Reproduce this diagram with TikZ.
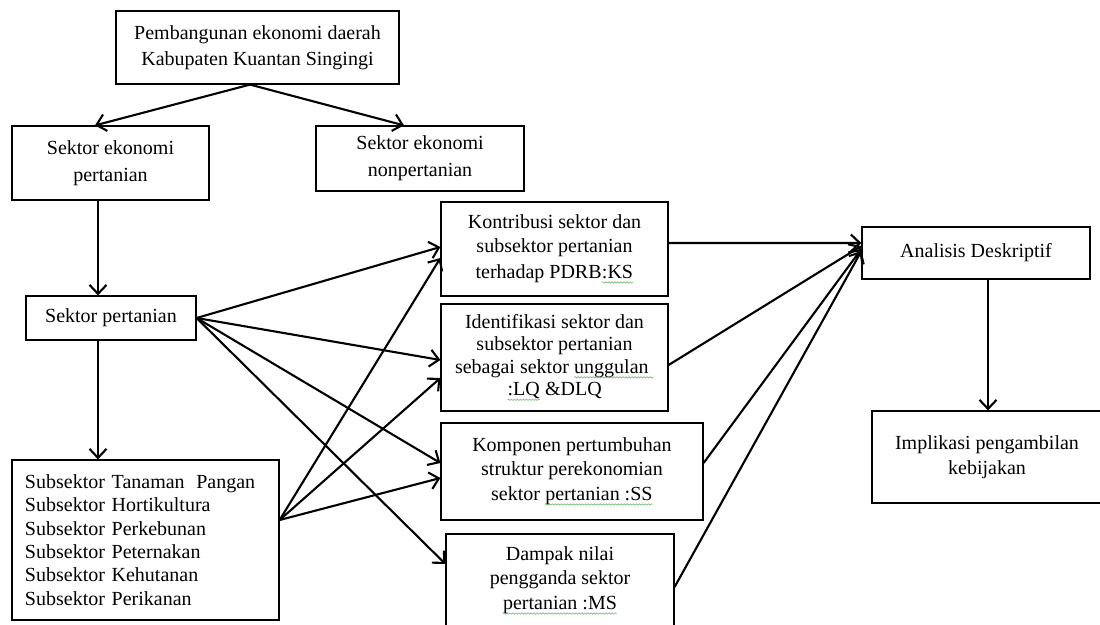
\documentclass[tikz,border=0pt]{standalone}
\usepackage{fontspec}
\setmainfont{Liberation Serif}
\usetikzlibrary{arrows.meta,decorations.pathmorphing}
\definecolor{squig}{RGB}{110,185,110}
\newcommand\fsz{\fontsize{20bp}{24.5bp}\selectfont}
\newcommand\sq[1]{\begin{pgfinterruptpicture}\tikz[baseline=(w.base)]{\node[draw=none,fill=none,inner sep=0pt,outer sep=0pt,minimum width=0pt,minimum height=0pt] (w) {#1};
 \draw[draw=squig,line width=0.6bp,decorate,decoration={snake,amplitude=0.7bp,segment length=3bp}] ([yshift=-4bp]w.base west) -- ([yshift=-4bp]w.base east);}\end{pgfinterruptpicture}}
\begin{document}
\begin{tikzpicture}[x=1bp,y=-1bp,
  box/.style={draw, line width=1.2bp, inner sep=0pt, align=center, font=\fsz},
  arr/.style={line width=2.1bp, -{Straight Barb[length=9bp,width=17bp]}}]
\useasboundingbox (0,0) rectangle (1100,625);
\clip (0,0) rectangle (1100,625);
\fill[white] (0,0) rectangle (1100,625);

\node[box, minimum width=283bp, minimum height=73bp] (top) at (257.5,47.5)
  {Pembangunan ekonomi daerah\\[1.5bp]Kabupaten Kuantan Singingi};
\node[box, minimum width=197bp, minimum height=74bp] (sep) at (110.5,163)
  {\rule{0pt}{6bp}Sektor ekonomi\\[3bp]pertanian};
\node[box, minimum width=208bp, minimum height=65bp] (senp) at (420,158.5)
  {\rule{0pt}{5bp}Sektor ekonomi\\[2.5bp]nonpertanian};
\node[box, minimum width=170bp, minimum height=44bp] (sp) at (111,318)
  {Sektor pertanian};
\node[box, minimum height=160bp, text width=241bp, inner xsep=13bp, align=left,
  font=\fontsize{20bp}{23.4bp}\selectfont] (sub) at (145.5,540)
  {Subsektor Tanaman\hspace{0.25em} Pangan\\Subsektor Hortikultura\\Subsektor Perkebunan\\Subsektor Peternakan\\Subsektor Kehutanan\\Subsektor Perikanan};

\node[box, minimum width=227bp, minimum height=94bp] (k1) at (554.5,249)
  {Kontribusi sektor dan\\subsektor pertanian\\[1bp]terhadap PDRB\sq{:KS}};
\node[box, minimum width=227bp, minimum height=107bp, font=\fontsize{20bp}{22.5bp}\selectfont] (k2) at (554.5,357.5)
  {Identifikasi sektor dan\\subsektor pertanian\\sebagai sektor \sq{unggulan\ }\\\sq{:LQ} \&DLQ};
\node[box, minimum width=262bp, minimum height=97bp] (k3) at (572,471.5)
  {Komponen pertumbuhan\\struktur perekonomian\\sektor \sq{pertanian :SS}};
\node[box, minimum width=228bp, minimum height=93bp] (k4) at (560,580.5)
  {Dampak nilai\\pengganda sektor\\\sq{pertanian :MS}};
\node[box, minimum width=228bp, minimum height=52bp] (ad) at (976,253)
  {Analisis Deskriptif};
\node[box, minimum width=230bp, minimum height=92bp] (im) at (987,457)
  {\rule{0pt}{5bp}Implikasi pengambilan\\kebijakan};

% top branches
\draw[arr] ([xshift=-7.5bp]top.south) -- ([xshift=-15.5bp]sep.north);
\draw[arr] ([xshift=-7.5bp]top.south) -- ([xshift=-16bp]senp.north);
% vertical chain
\draw[arr] ([xshift=-12.5bp]sep.south) -- ([xshift=-12.5bp]sep.south |- sp.north);
\draw[arr] ([xshift=-13bp]sp.south) -- ([xshift=-13bp]sp.south |- sub.north);
% from sektor pertanian
\draw[arr] (sp.east) -- ([yshift=2bp]k1.west);
\draw[arr] (sp.east) -- ([yshift=-2.5bp]k2.west);
\draw[arr] (sp.east) -- ([yshift=8.5bp]k3.west);
\draw[arr] (sp.east) -- ([yshift=16.5bp]k4.west);
% from subsektor
\draw[arr] ([yshift=20bp]sub.east) -- ([yshift=-9bp]k1.west);
\draw[arr] ([yshift=20bp]sub.east) -- ([yshift=-20.5bp]k2.west);
\draw[arr] ([yshift=20bp]sub.east) -- ([yshift=-6.5bp]k3.west);
% to analisis
\draw[arr] ([yshift=6bp]k1.east) -- ([yshift=10bp]ad.west);
\draw[arr] ([yshift=-7.5bp]k2.east) -- ([yshift=7bp]ad.west);
\draw[arr] ([yshift=8.5bp]k3.east) -- ([yshift=4bp]ad.west);
\draw[arr] ([yshift=-6.5bp]k4.east) -- ([yshift=2bp]ad.west);
% to implikasi
\draw[arr] ([xshift=12bp]ad.south) -- ([xshift=12bp]ad.south |- im.north);
\end{tikzpicture}
\end{document}
